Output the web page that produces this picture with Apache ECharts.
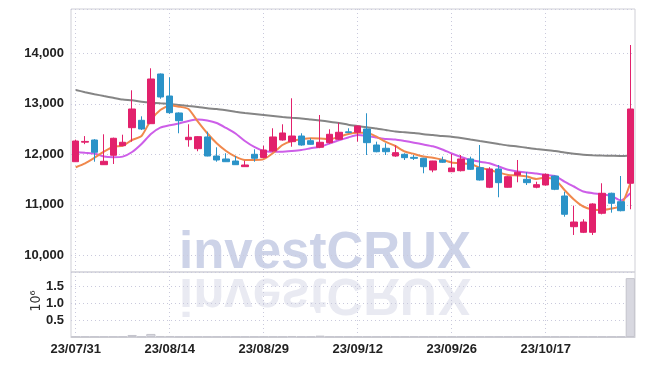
<!DOCTYPE html>
<html><head><meta charset="utf-8">
<script src="https://cdn.jsdelivr.net/npm/echarts@6/dist/echarts.min.js"></script>
<style>html,body{margin:0;padding:0;background:#fff}#c{width:645px;height:366px}</style>
</head><body><div id="c"></div>
<script>
const dates = ['23/07/31','23/08/01','23/08/02','23/08/03','23/08/04','23/08/07','23/08/08','23/08/09','23/08/10','23/08/11',
'23/08/14','23/08/16','23/08/17','23/08/18','23/08/21','23/08/22','23/08/23','23/08/24','23/08/25','23/08/28',
'23/08/29','23/08/30','23/08/31','23/09/01','23/09/04','23/09/05','23/09/06','23/09/07','23/09/08','23/09/11',
'23/09/12','23/09/13','23/09/14','23/09/15','23/09/18','23/09/19','23/09/20','23/09/21','23/09/22','23/09/25',
'23/09/26','23/09/27','23/10/04','23/10/05','23/10/06','23/10/10','23/10/11','23/10/12','23/10/13','23/10/16',
'23/10/17','23/10/18','23/10/19','23/10/20','23/10/23','23/10/24','23/10/25','23/10/26','23/10/27','23/10/30'];
const opens  = [11853,12240,12283,11794,11980,12170,12527,12673,12606,13590,13154,12818,12289,12111,12343,11966,11907,11867,11755,12000,
11937,12065,12283,12250,12362,12269,12139,12230,12297,12445,12436,12501,12184,12119,11966,12000,11940,11921,11689,11887,
11655,11675,11907,11735,11347,11709,11347,11590,11505,11347,11392,11570,11174,10566,10455,10455,10832,11228,11061,11426];
const highs  = [12290,12360,12300,12396,12330,12388,13267,12752,13703,13600,13525,12830,12594,12360,12448,12139,12020,11966,11873,12099,
12170,12515,12594,13109,12416,12317,12778,12495,12626,12515,12570,12812,12250,12218,12178,12020,11986,11930,11870,11953,
12006,11986,11953,12184,11745,11788,11570,11887,11644,11457,11620,11580,11259,10982,10713,11030,11426,11240,11570,14164];
const lows   = [11850,12200,11853,11790,11808,12160,12250,12480,12600,13100,12800,12416,12150,12060,11960,11853,11850,11790,11750,11853,
11920,12050,12270,12150,12170,12190,12120,12210,12280,12420,12250,11986,12040,11986,11950,11887,11887,11624,11644,11830,
11650,11660,11690,11480,11330,11149,11340,11446,11392,11327,11380,11290,10764,10402,10440,10402,10810,10844,10870,10911];
const closes = [12263,12255,12040,11861,12317,12238,12897,12501,13491,13135,12824,12665,12337,12349,11966,11887,11853,11794,11788,11921,
12085,12343,12422,12362,12184,12198,12238,12396,12436,12430,12560,12230,12051,12051,12032,11933,11920,11754,11867,11842,
11729,11907,11703,11491,11709,11438,11556,11644,11438,11398,11604,11307,10812,10659,10659,11016,11228,11030,10883,12897];
const volumes = [0.01,0.01,0.01,0.01,0.01,0.01,0.06,0.01,0.09,0.03,0.03,0.01,0.01,0.01,0.01,0.01,0.01,0.01,0.01,0.01,
0.01,0.01,0.01,0.03,0.01,0.01,0.04,0.01,0.01,0.01,0.01,0.01,0.01,0.01,0.01,0.01,0.01,0.01,0.01,0.01,
0.01,0.01,0.01,0.01,0.01,0.01,0.01,0.01,0.01,0.01,0.01,0.01,0.01,0.01,0.01,0.01,0.01,0.01,0.01,1.73];
const maShort = [11743,11822,11933,12051,12150,12170,12283,12362,12677,12877,12966,12943,12897,12646,12416,12218,12065,11952,11887,11887,
11903,12026,12184,12263,12297,12317,12313,12297,12343,12402,12428,12428,12349,12244,12164,12055,12006,11956,11933,11893,
11838,11822,11808,11735,11689,11640,11590,11580,11560,11511,11537,11501,11293,11105,10966,10907,10897,10927,10976,11426];
const maMid = [12046,12030,12016,11956,11941,11953,12046,12204,12402,12527,12574,12610,12660,12689,12669,12620,12521,12412,12263,12145,
12065,12051,12051,12065,12085,12119,12150,12214,12277,12333,12382,12362,12333,12303,12293,12263,12230,12194,12158,12095,
12016,11947,11887,11853,11824,11758,11693,11659,11640,11620,11590,11570,11461,11362,11263,11230,11210,11174,11085,11228];
const maLong = [13273,13230,13190,13154,13119,13085,13069,13042,13026,13010,12996,12976,12956,12937,12911,12897,12871,12842,12818,12798,
12778,12758,12739,12723,12709,12689,12669,12646,12620,12586,12560,12535,12511,12481,12451,12436,12422,12398,12382,12362,
12349,12323,12293,12263,12234,12204,12174,12154,12129,12105,12085,12065,12036,12010,11990,11980,11974,11970,11966,11976];
const volumeUnit = '10⁶';
const watermark = 'investCRUX';

const candles = dates.map((d, i) => [opens[i], closes[i], lows[i], highs[i]]);
const FONT = "'Liberation Sans',Arial,sans-serif";
const labelStyle = {color: '#222', fontFamily: FONT, fontSize: 13, fontWeight: 'bold'};
const gridLine = {show: true, lineStyle: {color: '#c9c9dc', type: [1, 3], width: 1}};
const chart = echarts.init(document.getElementById('c'), null, {renderer: 'canvas'});
chart.setOption({
  animation: false,
  backgroundColor: '#fff',
  grid: [
    {left: 71, right: 10, top: 9, height: 263, show: true, borderColor: '#cfcfd6', borderWidth: 1},
    {left: 71, right: 10, top: 272, height: 65, show: true, borderColor: '#cfcfd6', borderWidth: 1}
  ],
  xAxis: [
    {type: 'category', gridIndex: 0, data: dates, boundaryGap: true,
     axisLine: {show: false}, axisTick: {show: false}, axisLabel: {show: false},
     splitLine: Object.assign({interval: 9, alignWithLabel: true}, gridLine)},
    {type: 'category', gridIndex: 1, data: dates, boundaryGap: true,
     axisLine: {show: true, lineStyle: {color: '#cfcfd6'}}, axisTick: {show: false},
     axisLabel: Object.assign({interval: 9, margin: 6}, labelStyle),
     splitLine: Object.assign({interval: 9, alignWithLabel: true}, gridLine)}
  ],
  yAxis: [
    {type: 'value', gridIndex: 0, min: 9669, max: 14877, splitNumber: 5, scale: true,
     axisLine: {show: false}, axisTick: {show: false},
     axisLabel: Object.assign({showMinLabel: false, showMaxLabel: false, margin: 7, padding: [4, 0, 0, 0],
       formatter: v => v.toLocaleString('en-US')}, labelStyle),
     splitLine: gridLine},
    {type: 'value', gridIndex: 1, min: 0, max: 1.91, interval: 0.5,
     axisLine: {show: false}, axisTick: {show: false},
     axisLabel: Object.assign({showMinLabel: false, showMaxLabel: false, margin: 7, padding: [3, 0, 0, 0],
       formatter: v => v.toFixed(1)}, labelStyle),
     splitLine: gridLine}
  ],
  graphic: [
    {type: 'text', z: 0, silent: true, left: 179, top: 228,
     style: {text: watermark, font: "bold 51px 'Liberation Sans', sans-serif", fill: '#cdd3e8'}},
    {type: 'text', z: 0, silent: true, x: 179, y: 319, scaleY: -1,
     style: {text: watermark, font: "bold 51px 'Liberation Sans', sans-serif", fill: '#e9eaf2'}},
    {type: 'text', z: 5, silent: true, x: 36, y: 301, rotation: Math.PI / 2,
     style: {text: volumeUnit, font: "14px 'DejaVu Sans Condensed', sans-serif", fill: '#333', textAlign: 'center', textVerticalAlign: 'middle'}}
  ],
  series: [
    {type: 'candlestick', xAxisIndex: 0, yAxisIndex: 0, data: candles, barWidth: 7, z: 3,
     itemStyle: {color: '#e2216c', color0: '#2b93c8', borderColor: '#e2216c', borderColor0: '#2b93c8', borderWidth: 1}},
    {type: 'line', xAxisIndex: 0, yAxisIndex: 0, data: maLong, showSymbol: false, smooth: 0.2, z: 2,
     lineStyle: {color: '#858585', width: 2}},
    {type: 'line', xAxisIndex: 0, yAxisIndex: 0, data: maMid, showSymbol: false, smooth: 0.2, z: 2,
     lineStyle: {color: '#cd5ee8', width: 2}},
    {type: 'line', xAxisIndex: 0, yAxisIndex: 0, data: maShort, showSymbol: false, smooth: 0.2, z: 2,
     lineStyle: {color: '#f0884c', width: 2}},
    {type: 'bar', xAxisIndex: 1, yAxisIndex: 1, data: volumes, barCategoryGap: '2%',
     itemStyle: {color: '#d8d8e0', borderColor: '#c4c4cc', borderWidth: 1}}
  ]
});
</script></body></html>
